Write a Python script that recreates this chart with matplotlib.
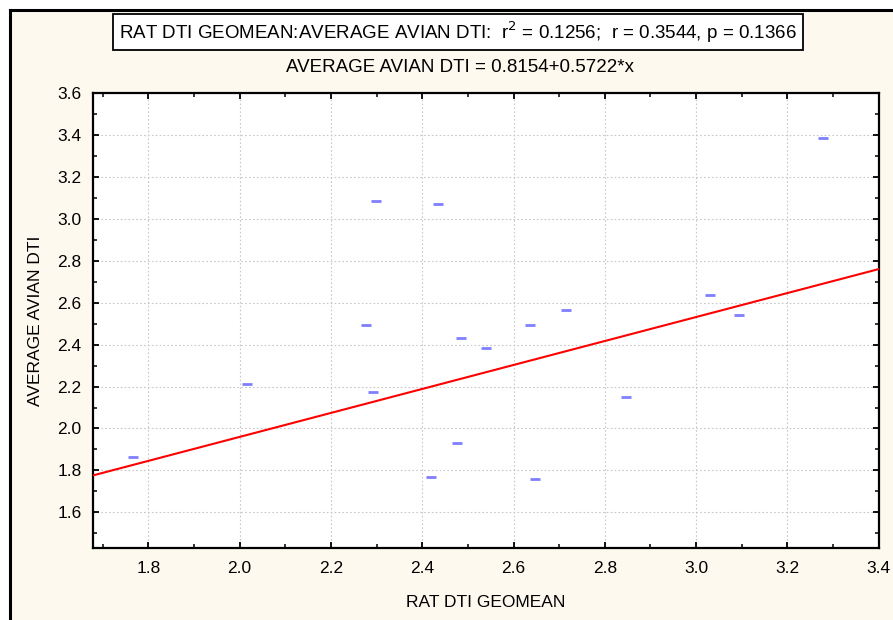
import numpy as np
import matplotlib.pyplot as plt
from matplotlib.lines import Line2D
from matplotlib.patches import Rectangle
from matplotlib.ticker import MultipleLocator

plt.rcParams['font.family'] = ['Liberation Sans', 'DejaVu Sans']

# rat DTI geomean vs. average avian DTI
rat_dti = [1.767, 2.015, 2.298, 2.434, 2.277, 2.292, 2.485, 2.540, 2.637,
           2.714, 2.477, 2.420, 2.646, 2.846, 3.030, 3.094, 3.277]
avian_dti = [1.866, 2.214, 3.086, 3.071, 2.493, 2.176, 2.433, 2.386, 2.493,
             2.567, 1.933, 1.767, 1.757, 2.152, 2.637, 2.540, 3.386]

intercept = 0.8154
slope = 0.5722
r2, r, p = 0.1256, 0.3544, 0.1366

fs = 12.5
fs_title = 13.5

fig = plt.figure(figsize=(8.93, 6.2), dpi=100)
fig.patch.set_facecolor('white')

# ivory page with a black border on the left and top
fig.patches.append(Rectangle((10 / 893, 0), 1, 1 - 10 / 620, transform=fig.transFigure,
                             facecolor='#fef9ee', edgecolor='none', zorder=-2))
fig.add_artist(Line2D([10 / 893, 10 / 893], [0, 1 - 10 / 620], color='black', lw=2.2,
                      transform=fig.transFigure))
fig.add_artist(Line2D([10 / 893, 1], [1 - 10 / 620, 1 - 10 / 620], color='black', lw=2.2,
                      transform=fig.transFigure))

ax = fig.add_axes([92.7 / 893, 1 - 548.3 / 620, (878.7 - 92.7) / 893, (548.3 - 93.3) / 620])
ax.set_facecolor('white')

ax.set_xlim(1.678, 3.4)
ax.set_ylim(1.428, 3.6)

ax.xaxis.set_major_locator(MultipleLocator(0.2))
ax.xaxis.set_minor_locator(MultipleLocator(0.1))
ax.yaxis.set_major_locator(MultipleLocator(0.2))
ax.yaxis.set_minor_locator(MultipleLocator(0.1))
ax.xaxis.set_major_formatter(plt.FormatStrFormatter('%.1f'))
ax.yaxis.set_major_formatter(plt.FormatStrFormatter('%.1f'))

ax.tick_params(which='both', direction='in', top=True, right=True, color='black',
               labelsize=fs)
ax.tick_params(which='major', length=4, width=1.3)
ax.tick_params(axis='x', which='major', pad=9)
ax.tick_params(axis='y', which='major', pad=8)
ax.tick_params(which='minor', length=3, width=1.1)
for s in ax.spines.values():
    s.set_linewidth(1.6)

ax.grid(which='major', linestyle=(0, (1.5, 2)), color='#c8c8c8', linewidth=0.8)
ax.set_axisbelow(True)

ax.scatter(rat_dti, avian_dti, marker='_', s=50, linewidths=2.0, color='#7f7fff', zorder=3)

xs = np.array(ax.get_xlim())
ax.plot(xs, intercept + slope * xs, color='#ff0000', lw=1.5, zorder=4)

ax.set_xlabel('RAT DTI GEOMEAN', fontsize=fs, labelpad=14)
ax.set_ylabel('AVERAGE AVIAN DTI', fontsize=fs, labelpad=10)

fig.text(458 / 893, 1 - 32 / 620,
         'RAT DTI GEOMEAN:AVERAGE AVIAN DTI:  r$^2$ = %.4f;  r = %.4f, p = %.4f' % (r2, r, p),
         ha='center', va='center', fontsize=fs_title,
         bbox=dict(boxstyle='square,pad=0.3', facecolor='white', edgecolor='black', lw=1.3))
fig.text(460 / 893, 1 - 68 / 620, 'AVERAGE AVIAN DTI = %.4f+%.4f*x' % (intercept, slope),
         ha='center', va='center', fontsize=fs_title)

fig.savefig('out.png', dpi=100)
